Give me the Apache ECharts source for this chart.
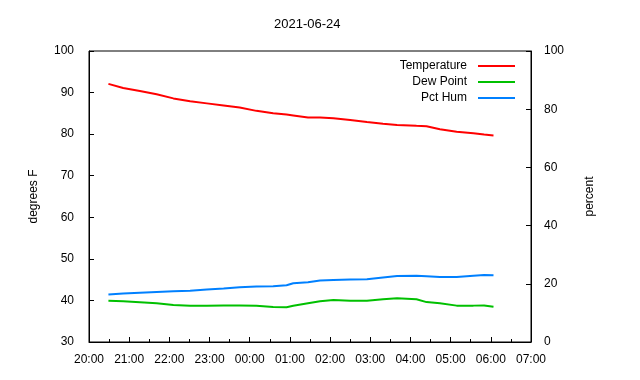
<!DOCTYPE html>
<html>
<head>
<meta charset="utf-8">
<script src="https://cdn.jsdelivr.net/npm/echarts@6/dist/echarts.min.js"></script>
<style>html,body{margin:0;padding:0;background:#fff}#c{width:640px;height:380px}</style>
</head>
<body>
<div id="c"></div>
<script>
const titleText = '2021-06-24';
const seriesNames = ['Temperature', 'Dew Point', 'Pct Hum'];
const times = ['2021-06-24 20:29','2021-06-24 20:51','2021-06-24 21:16','2021-06-24 21:41','2021-06-24 22:06','2021-06-24 22:31','2021-06-24 22:56','2021-06-24 23:21','2021-06-24 23:45','2021-06-25 00:10','2021-06-25 00:35','2021-06-25 00:55','2021-06-25 01:05','2021-06-25 01:27','2021-06-25 01:45','2021-06-25 02:05','2021-06-25 02:30','2021-06-25 02:55','2021-06-25 03:19','2021-06-25 03:40','2021-06-25 04:09','2021-06-25 04:24','2021-06-25 04:44','2021-06-25 05:09','2021-06-25 05:34','2021-06-25 05:50','2021-06-25 06:04'];
const temperature = [92.1,91.1,90.4,89.6,88.6,87.9,87.4,86.9,86.4,85.6,85.0,84.7,84.5,84.0,84.0,83.8,83.4,82.9,82.5,82.2,82.0,81.9,81.2,80.6,80.2,79.9,79.7];
const dewPoint = [39.9,39.8,39.55,39.3,38.9,38.7,38.7,38.8,38.8,38.7,38.4,38.35,38.7,39.3,39.8,40.1,39.9,39.9,40.3,40.5,40.3,39.6,39.3,38.75,38.75,38.8,38.5];
const pctHum = [16.3,16.7,16.95,17.2,17.4,17.6,18.0,18.4,18.8,19.1,19.2,19.5,20.2,20.5,21.1,21.3,21.5,21.6,22.2,22.7,22.8,22.6,22.3,22.3,22.8,23.0,22.9];
const xMin = '2021-06-24 20:00', xMax = '2021-06-25 07:00';

const pairs = arr => times.map((t, i) => [t, arr[i]]);
const font = 'Liberation Sans, Arial, sans-serif';
const chart = echarts.init(document.getElementById('c'));
chart.setOption({
  animation: false,
  backgroundColor: '#fff',
  textStyle: {fontFamily: font},
  title: {text: titleText, left: 269, top: 13,
    textStyle: {fontSize: 13, fontWeight: 'normal', color: '#000', fontFamily: font}},
  grid: {left: 89, right: 109, top: 51, bottom: 38, show: true, borderColor: '#000', borderWidth: 1},
  legend: {orient: 'vertical', right: 120, top: 55, itemGap: 4, icon: 'rect', itemWidth: 37, itemHeight: 2,
    align: 'right', data: seriesNames,
    textStyle: {fontSize: 12, color: '#000', fontFamily: font, width: 100, align: 'right', padding: [0, 6, 0, 0], lineHeight: 12}},
  xAxis: {type: 'time', min: xMin, max: xMax, minInterval: 3600000, maxInterval: 3600000,
    axisLine: {show: true, lineStyle: {color: '#000', width: 1}},
    axisTick: {show: true, inside: true, length: 5, lineStyle: {color: '#000'}},
    minorTick: {show: true, splitNumber: 2, length: 3, lineStyle: {color: '#000'}},
    splitLine: {show: false},
    axisLabel: {formatter: '{HH}:{mm}', color: '#000', fontSize: 12, margin: 12, fontFamily: font, hideOverlap: false, showMinLabel: true, showMaxLabel: true}},
  yAxis: [
    {type: 'value', min: 30, max: 100, interval: 10, name: 'degrees F', nameLocation: 'middle', nameGap: 49,
      nameTextStyle: {fontSize: 12, color: '#000', fontFamily: font},
      axisLine: {show: true, lineStyle: {color: '#000'}},
      axisTick: {show: true, inside: true, length: 5, lineStyle: {color: '#000'}},
      splitLine: {show: false},
      axisLabel: {color: '#000', fontSize: 12, margin: 15, fontFamily: font}},
    {type: 'value', min: 0, max: 100, interval: 20, position: 'right', name: 'percent', nameLocation: 'middle', nameGap: 53,
      nameTextStyle: {fontSize: 12, color: '#000', fontFamily: font},
      axisLine: {show: true, lineStyle: {color: '#000'}},
      axisTick: {show: true, inside: true, length: 5, lineStyle: {color: '#000'}},
      splitLine: {show: false},
      axisLabel: {color: '#000', fontSize: 12, margin: 13, fontFamily: font}}
  ],
  series: [
    {name: seriesNames[0], type: 'line', yAxisIndex: 0, data: pairs(temperature), showSymbol: false, symbol: 'none',
      lineStyle: {color: '#ff0000', width: 2}, itemStyle: {color: '#ff0000'}},
    {name: seriesNames[1], type: 'line', yAxisIndex: 0, data: pairs(dewPoint), showSymbol: false, symbol: 'none',
      lineStyle: {color: '#00c000', width: 2}, itemStyle: {color: '#00c000'}},
    {name: seriesNames[2], type: 'line', yAxisIndex: 1, data: pairs(pctHum), showSymbol: false, symbol: 'none',
      lineStyle: {color: '#0080ff', width: 2}, itemStyle: {color: '#0080ff'}}
  ]
});
</script>
</body>
</html>
